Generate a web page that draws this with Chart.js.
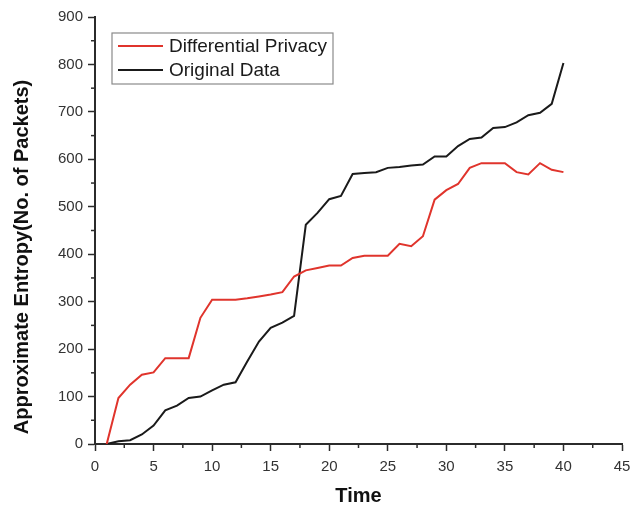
<!DOCTYPE html>
<html>
<head>
  <meta charset="utf-8">
  <title>Approximate Entropy over Time</title>
  <script src="https://cdn.jsdelivr.net/npm/chart.js"></script>
  <style>
    html, body { margin: 0; padding: 0; background: #fff; }
    #wrap { width: 630px; height: 506px; }
  </style>
</head>
<body>
  <div id="wrap"><canvas id="myChart" width="630" height="506"></canvas></div>
  <script>
    // Time steps 1..40
    const timeSteps = [1, 2, 3, 4, 5, 6, 7, 8, 9, 10, 11, 12, 13, 14, 15, 16, 17, 18, 19, 20,
      21, 22, 23, 24, 25, 26, 27, 28, 29, 30, 31, 32, 33, 34, 35, 36, 37, 38, 39, 40];

    const diffPrivacy = [0, 97, 125, 146, 151, 181, 181, 181, 266, 304, 304, 304, 307, 311, 315, 320,
      353, 366, 371, 376, 376, 392, 397, 397, 397, 422, 417, 438, 515, 535, 548, 582, 592, 592, 592,
      573, 568, 592, 578, 573];

    const originalData = [0, 6, 8, 20, 39, 71, 81, 97, 100, 113, 125, 130, 174, 216, 245, 256, 270,
      462, 487, 516, 523, 569, 571, 573, 582, 584, 587, 589, 606, 606, 628, 643, 646, 666, 668, 678,
      693, 698, 717, 803];

    const seriesLabels = ['Differential Privacy', 'Original Data'];
    const seriesColors = ['#e0342c', '#1a1a1a'];

    const xMin = 0, xMax = 45, xStep = 5;
    const yMin = 0, yMax = 900, yStep = 100;

    const axisColor = '#2b2b2b';
    const fontFamily = 'Arial, "Liberation Sans", sans-serif';
    const yTitle = 'Approximate Entropy(No. of Packets)';

    // Minor ticks, y title and in-plot legend box
    const extrasPlugin = {
      id: 'extras',
      afterDraw(chart) {
        const ctx = chart.ctx;
        const xs = chart.scales.x;
        const ys = chart.scales.y;
        ctx.save();
        ctx.strokeStyle = axisColor;
        ctx.lineWidth = 1.5;
        // minor ticks on x
        for (let v = xMin + xStep / 2; v < xMax; v += xStep) {
          const px = xs.getPixelForValue(v);
          ctx.beginPath();
          ctx.moveTo(px, ys.bottom);
          ctx.lineTo(px, ys.bottom + 4);
          ctx.stroke();
        }
        // minor ticks on y
        for (let v = yMin + yStep / 2; v < yMax; v += yStep) {
          const py = ys.getPixelForValue(v);
          ctx.beginPath();
          ctx.moveTo(xs.left, py);
          ctx.lineTo(xs.left - 4, py);
          ctx.stroke();
        }

        // y axis title (sits a bit below the plot middle in the original)
        ctx.save();
        ctx.translate(22, 257);
        ctx.rotate(-Math.PI / 2);
        ctx.font = 'bold 20px ' + fontFamily;
        ctx.fillStyle = '#111';
        ctx.textAlign = 'center';
        ctx.textBaseline = 'middle';
        ctx.fillText(yTitle, 0, 0);
        ctx.restore();

        // legend
        const bx = 112, by = 33, bw = 221, bh = 51;
        ctx.strokeStyle = '#8a8a8a';
        ctx.lineWidth = 1.2;
        ctx.strokeRect(bx, by, bw, bh);
        ctx.font = '19px ' + fontFamily;
        ctx.textBaseline = 'middle';
        ctx.fillStyle = '#1a1a1a';
        seriesLabels.forEach((lbl, i) => {
          const ly = by + 13 + i * 24;
          ctx.strokeStyle = seriesColors[i];
          ctx.lineWidth = 2;
          ctx.beginPath();
          ctx.moveTo(bx + 6, ly);
          ctx.lineTo(bx + 51, ly);
          ctx.stroke();
          ctx.fillText(lbl, bx + 57, ly + 1);
        });
        ctx.restore();
      }
    };

    const ctx = document.getElementById('myChart').getContext('2d');
    const myChart = new Chart(ctx, {
      type: 'line',
      data: {
        labels: timeSteps,
        datasets: [
          {
            label: seriesLabels[0],
            data: timeSteps.map((t, i) => ({ x: t, y: diffPrivacy[i] })),
            borderColor: seriesColors[0],
            borderWidth: 2,
            pointRadius: 0,
            tension: 0,
            fill: false
          },
          {
            label: seriesLabels[1],
            data: timeSteps.map((t, i) => ({ x: t, y: originalData[i] })),
            borderColor: seriesColors[1],
            borderWidth: 2,
            pointRadius: 0,
            tension: 0,
            fill: false
          }
        ]
      },
      options: {
        responsive: false,
        animation: false,
        layout: { padding: { top: 17, right: 0, left: 0, bottom: 0 } },
        plugins: {
          legend: { display: false },
          tooltip: { enabled: false }
        },
        scales: {
          x: {
            type: 'linear',
            min: xMin,
            max: xMax,
            afterFit(scale) {
              scale.height = 62;
              scale.paddingRight = 8;
            },
            border: { color: axisColor, width: 2 },
            grid: { drawOnChartArea: false, tickLength: 7, tickColor: axisColor, tickWidth: 1.5 },
            ticks: {
              stepSize: xStep,
              color: '#333',
              padding: 7,
              maxRotation: 0,
              font: { family: fontFamily, size: 15 }
            },
            title: {
              display: true,
              text: 'Time',
              color: '#111',
              padding: { top: 0, bottom: 0 },
              font: { family: fontFamily, size: 20, weight: 'bold', lineHeight: 1 }
            }
          },
          y: {
            min: yMin,
            max: yMax,
            afterFit(scale) { scale.width = 95; },
            border: { color: axisColor, width: 2 },
            grid: { drawOnChartArea: false, tickLength: 7, tickColor: axisColor, tickWidth: 1.5 },
            ticks: {
              stepSize: yStep,
              color: '#333',
              padding: 5,
              font: { family: fontFamily, size: 15 }
            },
            title: { display: false }
          }
        }
      },
      plugins: [extrasPlugin]
    });
  </script>
</body>
</html>
